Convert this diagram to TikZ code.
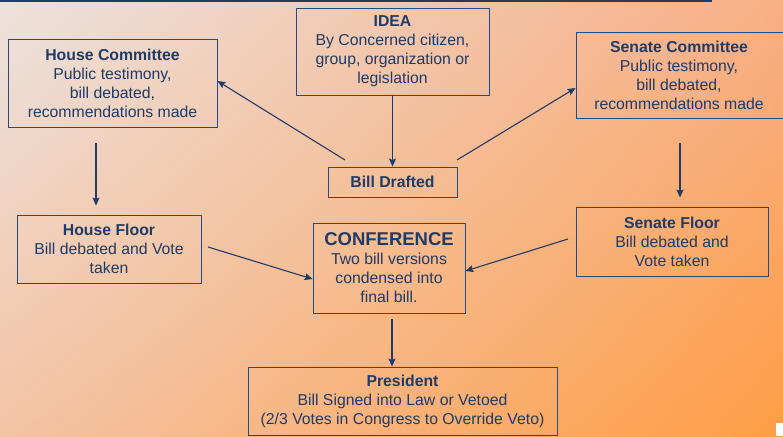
\documentclass[tikz,border=0pt]{standalone}
\usepackage{fontspec}
\setmainfont{Liberation Sans}
\usetikzlibrary{arrows.meta,shadings}
\definecolor{navy}{HTML}{1F3B68}
\definecolor{bordc}{HTML}{2A4B7A}
\definecolor{bgTL}{HTML}{ECE2DD}
\definecolor{bgTR}{HTML}{F8AF86}
\definecolor{bgBL}{HTML}{F4C3A5}
\definecolor{bgBR}{HTML}{FE9E44}
\tikzset{
  box/.style={draw=bordc, line width=0.9pt, align=center, text=navy, inner sep=0pt,
    font=\fontsize{15.8}{19}\selectfont},
  arr/.style={draw=navy, line width=1.1pt, -{Stealth[length=8pt,width=7pt,inset=1.5pt]}},
  ttl/.style={font=\fontsize{15.8}{19}\selectfont\bfseries}
}
\begin{document}
\begin{tikzpicture}[x=1pt,y=-1pt]
\useasboundingbox (0,0) rectangle (783,436);
\shade[upper left=bgTL, upper right=bgTR, lower left=bgBL, lower right=bgBR] (0,0) rectangle (783,436);
\fill[white] (776,423) rectangle (783,436);
\draw[navy, line width=1.6pt] (0,1) -- (712,1);
% nodes
\node[box, minimum width=193pt, minimum height=87pt] (idea) at (392.5,51.5)
  {\textbf{IDEA}\\By Concerned citizen,\\group, organization or\\legislation};
\node[box, minimum width=209pt, minimum height=88pt] (hc) at (112.5,83)
  {\textbf{House Committee}\\Public testimony,\\bill debated,\\recommendations made};
\node[box, minimum width=210pt, minimum height=86pt] (sc) at (681,75)
  {\hspace*{-4pt}\textbf{Senate Committee}\\\hspace*{-4pt}Public testimony,\\\hspace*{-4pt}bill debated,\\\hspace*{-4pt}recommendations made};
\node[box, minimum width=129pt, minimum height=30pt] (bill) at (392.5,182)
  {\textbf{Bill Drafted}};
\node[box, minimum width=184pt, minimum height=68pt] (hf) at (109,249)
  {\textbf{House Floor}\\Bill debated and Vote\\taken};
\node[box, minimum width=152pt, minimum height=90pt] (conf) at (389,268)
  {{\fontsize{18.5}{21}\selectfont\bfseries CONFERENCE}\\Two bill versions\\condensed into\\final bill.};
\node[box, minimum width=192pt, minimum height=69pt] (sf) at (672,241.5)
  {\textbf{Senate Floor}\\Bill debated and\\Vote taken};
\node[box, minimum width=309pt, minimum height=68pt] (pres) at (402.5,401)
  {\textbf{President}\\Bill Signed into Law or Vetoed\\(2/3 Votes in Congress to Override Veto)};
% free ends
\coordinate (b1) at (345,160);
\coordinate (b2) at (457,160);
\coordinate (h1) at (96,143);
\coordinate (s1) at (680,143);
\coordinate (hf1) at (208,247);
\coordinate (sf1) at (568,239);
\coordinate (c1) at (392,319);
% connectors
\draw[arr] (idea.south) -- (bill.north);
\draw[arr] (b1) -- ([yshift=2pt]hc.east);
\draw[arr] (b2) -- ([yshift=-13pt]sc.west);
\draw[arr, shorten >=9pt] (h1) -- (h1 |- hf.north);
\draw[arr, shorten >=9pt] (s1) -- (s1 |- sf.north);
\draw[arr] (hf1) -- ([yshift=-11pt]conf.west);
\draw[arr] (sf1) -- ([yshift=-3pt]conf.east);
\draw[arr] (c1) -- (c1 |- pres.north);
\end{tikzpicture}
\end{document}
